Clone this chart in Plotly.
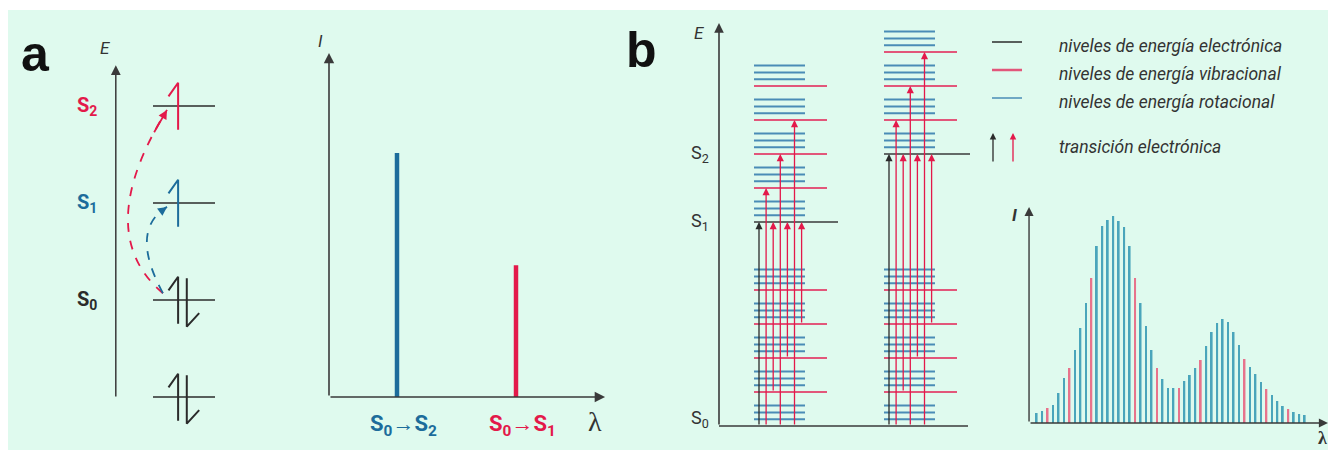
import numpy as np
import plotly.graph_objects as go

# page body adds an 8 px margin; figure pixels = screen pixels - 8
OX, OY = 8, 8
W, H = 1336 - OX, 450 - OY

RED = "#e3194a"
BLUE = "#1c6c9b"
DARK = "#2b2b2b"
AXIS = "#3a3a3a"
ROT = "#4a8cb6"
VIB = "#e2567a"
SPEC_ROT = "#4aa5bb"
SPEC_VIB = "#e7738c"
BG = "#dffaee"
TXT = "#333333"
SANS = "Roboto, 'Liberation Sans', sans-serif"
SERIF = "'Liberation Serif', 'DejaVu Serif', serif"

# ---------------- data ----------------
# (a) orbital diagram
orbital_levels = [-1, 0, 1, 2]
state_labels = ["S<sub>0</sub>", "S<sub>1</sub>", "S<sub>2</sub>"]
state_label_levels = [0, 1, 2]
state_label_colors = [DARK, BLUE, RED]
spin_up_levels = [-1, 0, 1, 2]
spin_up_colors = [DARK, DARK, BLUE, RED]
spin_down_levels = [-1, 0]
excitation_targets = [2, 1]
excitation_colors = [RED, BLUE]

# (a) line spectrum
line_labels = ["S<sub>0</sub>→S<sub>2</sub>", "S<sub>0</sub>→S<sub>1</sub>"]
line_lambda = [1.0, 2.75]
line_intensity = [1.0, 0.54]
line_colors = [BLUE, RED]

# (b) energy levels (units of one vibrational quantum)
electronic_names = ["S<sub>0</sub>", "S<sub>1</sub>", "S<sub>2</sub>"]
electronic_energy = [0.0, 6.0, 8.0]
vib_quanta_S0 = [0, 1, 2, 3, 4]
vib_quanta_S1 = [0, 1, 2, 3, 4]
vib_quanta_S2 = [0, 1, 2, 3]
rot_offsets = [0.2, 0.4, 0.6]
trans_from_v = [0, 0, 1, 0, 2, 0, 3]
trans_to_v = [0, 1, 0, 2, 0, 3, 0]

# (b) band spectrum
band_intensity = [10, 12, 15, 18, 30, 45, 55, 73, 95, 120,
                  145, 177, 197, 203, 207, 202, 196, 177, 145, 120,
                  97, 73, 55, 44, 35, 35, 35, 42, 48, 55,
                  63, 77, 91, 100, 104, 101, 91, 78, 64, 56,
                  49, 41, 34, 28, 22, 17, 14, 11, 9, 8]
band_vib_index = [2, 6, 10, 18, 22, 26, 30, 38, 42, 46]

legend_labels = ["niveles de energía electrónica",
                 "niveles de energía vibracional",
                 "niveles de energía rotacional",
                 "transición electrónica"]
legend_colors = [DARK, VIB, ROT]

# ---------------- figure ----------------
fig = go.Figure()
layout_axes = {}
annotations = []
shapes = []


def px(x):
    return (x - OX) / W


def py(y):
    return 1 - (y - OY) / H


def panel(n, left, right, top, bottom, x0, xu, y0, yu):
    sx = "" if n == 1 else str(n)
    layout_axes["xaxis" + sx] = dict(domain=[px(left), px(right)],
                                     range=[(left - x0) / xu, (right - x0) / xu],
                                     visible=False, anchor="y" + sx, fixedrange=True)
    layout_axes["yaxis" + sx] = dict(domain=[py(bottom), py(top)],
                                     range=[(y0 - bottom) / yu, (y0 - top) / yu],
                                     visible=False, anchor="x" + sx, fixedrange=True)
    return "x" + sx, "y" + sx


def arrow(xr, yr, xt, yt, xh, yh, color, width=1.5, size=1.0, head=2):
    annotations.append(dict(x=xh, y=yh, ax=xt, ay=yt, xref=xr, yref=yr, axref=xr, ayref=yr,
                            showarrow=True, arrowhead=head, arrowsize=size, arrowwidth=width,
                            arrowcolor=color, text="", standoff=0))


def label(xr, yr, x, y, text, size, color, family=SANS, weight="normal", style="normal",
          xanchor="center", yanchor="middle"):
    annotations.append(dict(x=x, y=y, xref=xr, yref=yr, text=text, showarrow=False,
                            xanchor=xanchor, yanchor=yanchor,
                            font=dict(size=size, color=color, family=family,
                                      weight=weight, style=style)))


def segs(xs, ys):
    X, Y = [], []
    for (xa, xb), (ya, yb) in zip(xs, ys):
        X += [xa, xb, None]
        Y += [ya, yb, None]
    return X, Y


# ---- panel a, orbital diagram ----
xa1, ya1 = panel(1, 10, 290, 12, 448, 153, 62, 300, 97)
X, Y = segs([(0, 1)] * len(orbital_levels), [(l, l) for l in orbital_levels])
fig.add_trace(go.Scatter(x=X, y=Y, mode="lines", line=dict(color=DARK, width=1.5),
                         xaxis=xa1, yaxis=ya1, hoverinfo="skip"))
for lv, c in zip(spin_up_levels, spin_up_colors):
    fig.add_trace(go.Scatter(x=[0.25, 0.405, 0.405], y=[lv + 0.1, lv + 0.24, lv - 0.245],
                             mode="lines", line=dict(color=c, width=2),
                             xaxis=xa1, yaxis=ya1, hoverinfo="skip"))
for lv in spin_down_levels:
    fig.add_trace(go.Scatter(x=[0.545, 0.545, 0.745], y=[lv + 0.225, lv - 0.275, lv - 0.135],
                             mode="lines", line=dict(color=DARK, width=2),
                             xaxis=xa1, yaxis=ya1, hoverinfo="skip"))
arrow(xa1, ya1, -0.6, -1.01, -0.6, 2.42, AXIS, width=1.5, size=1.3)
label(xa1, ya1, -0.78, 2.6, "E", 17, TXT, style="italic")
for t, lv, c in zip(state_labels, state_label_levels, state_label_colors):
    label(xa1, ya1, -1.06, lv, t, 20, c, weight="bold")
# dashed excitation arrows
ctrl = {2: (-1.0, 0.70), 1: (-0.39, 0.72)}
for tgt, c in zip(excitation_targets, excitation_colors):
    p0 = np.array([0.16, 0.07])
    p2 = np.array([0.226, tgt - 0.04])
    cc = np.array(ctrl[tgt])
    shapes.append(dict(type="path", xref=xa1, yref=ya1,
                       path=f"M {p0[0]},{p0[1]} Q {cc[0]},{cc[1]} {p2[0]},{p2[1]}",
                       line=dict(color=c, width=1.8, dash="dash")))
    t = 0.9
    pt = (1 - t) ** 2 * p0 + 2 * t * (1 - t) * cc + t ** 2 * p2
    arrow(xa1, ya1, pt[0], pt[1], p2[0], p2[1], c, width=1.8, size=1.0)

# ---- panel a, line spectrum ----
xa2, ya2 = panel(2, 300, 620, 12, 448, 329, 68, 397, 244)
fig.add_trace(go.Bar(x=line_lambda, y=line_intensity, width=0.066,
                     marker=dict(color=line_colors, line=dict(width=0)),
                     xaxis=xa2, yaxis=ya2, hoverinfo="skip"))
arrow(xa2, ya2, 0, 0, 0, 1.41, AXIS, width=1.6, size=1.3)
arrow(xa2, ya2, 0, 0, 4.06, 0, AXIS, width=1.6, size=1.3)
label(xa2, ya2, -0.13, 1.46, "I", 17, TXT, style="italic")
for t, lx, c in zip(line_labels, line_lambda, line_colors):
    label(xa2, ya2, lx + 0.09, -0.115, t, 22, c, weight="bold")
label(xa2, ya2, 3.91, -0.10, "λ", 28, TXT, family=SERIF)

# ---- panel b, energy levels ----
xb1, yb1 = panel(3, 620, 980, 12, 448, 719, 1, 426, 34)
stack_x0 = [35, 165]
stack_target = [1, 2]
stack_vibs = [vib_quanta_S1, vib_quanta_S2]
elec_len = [84, 86]
rot_len, vib_len = 51, 73
rx, ry, vx, vy, ex, ey = [], [], [], [], [], []
for s, x0 in enumerate(stack_x0):
    e_up = electronic_energy[stack_target[s]]
    for base, vibs in ((electronic_energy[0], vib_quanta_S0), (e_up, stack_vibs[s])):
        for v in vibs:
            for r in rot_offsets:
                rx.append((x0, x0 + rot_len)); ry.append((base + v + r,) * 2)
            if v > 0:
                vx.append((x0, x0 + vib_len)); vy.append((base + v,) * 2)
    ex.append((x0, x0 + elec_len[s])); ey.append((e_up, e_up))
ex.append((0, 249)); ey.append((electronic_energy[0],) * 2)
for xs, ys, c, w in ((rx, ry, ROT, 2.0), (vx, vy, VIB, 1.8), (ex, ey, AXIS, 1.4)):
    X, Y = segs(xs, ys)
    fig.add_trace(go.Scatter(x=X, y=Y, mode="lines", line=dict(color=c, width=w),
                             xaxis=xb1, yaxis=yb1, hoverinfo="skip"))
for s, x0 in enumerate(stack_x0):
    e_up = electronic_energy[stack_target[s]]
    for k, (fv, tv) in enumerate(zip(trans_from_v, trans_to_v)):
        xk = x0 + 5 + 7.1 * k
        c = DARK if (fv == 0 and tv == 0) else RED
        arrow(xb1, yb1, xk, electronic_energy[0] + fv, xk, e_up + tv, c, width=1.3, size=1.1)
arrow(xb1, yb1, 0, 0, 0, 11.85, AXIS, width=1.6, size=1.2)
label(xb1, yb1, -20, 11.56, "E", 17, TXT, style="italic")
for name, e in zip(electronic_names, electronic_energy):
    label(xb1, yb1, -19, e + (0.22 if e == 0 else 0), name, 18, TXT)

# ---- panel b, band spectrum ----
xb2, yb2 = panel(4, 985, 1336, 190, 448, 1036.7, 5.47, 423, 1)
idx = list(range(len(band_intensity)))
bcolors = [SPEC_VIB if i in band_vib_index else SPEC_ROT for i in idx]
fig.add_trace(go.Bar(x=idx, y=band_intensity, width=0.32,
                     marker=dict(color=bcolors, line=dict(width=0)),
                     xaxis=xb2, yaxis=yb2, hoverinfo="skip"))
arrow(xb2, yb2, -1.4, 0, -1.4, 216, AXIS, width=1.4, size=1.3)
arrow(xb2, yb2, -1.4, 0, 53.25, 0, AXIS, width=1.4, size=1.3)
label(xb2, yb2, -4.0, 208, "I", 17, TXT, weight="bold", style="italic")
label(xb2, yb2, 52.3, -15, "λ", 18, TXT, family=SERIF, weight="bold")

# ---- panel letters ----
label("paper", "paper", px(36), py(54), "a", 50, "#111111",
      family="'Liberation Sans', Arial, sans-serif", weight="bold")
label("paper", "paper", px(641), py(50), "b", 50, "#111111",
      family="'Liberation Sans', Arial, sans-serif", weight="bold")

# ---- legend ----
leg_rows = [42, 70, 98]
for yy, c, w in zip(leg_rows, legend_colors, [1.5, 2.5, 1.5]):
    shapes.append(dict(type="line", xref="paper", yref="paper", x0=px(992), x1=px(1022),
                       y0=py(yy), y1=py(yy), line=dict(color=c, width=w)))
for t, yy in zip(legend_labels, [46, 74, 102, 147]):
    label("paper", "paper", px(1057), py(yy), t, 17.5, TXT, style="italic", xanchor="left")
for xx, c in ((993, DARK), (1013, RED)):
    annotations.append(dict(x=px(xx), y=py(133), xref="paper", yref="paper", ax=0, ay=30,
                            showarrow=True, arrowhead=2, arrowsize=1.0, arrowwidth=1.3,
                            arrowcolor=c, text="", standoff=0))

# background (white strip on top, mint elsewhere)
shapes.insert(0, dict(type="rect", xref="paper", yref="paper", x0=0, x1=1, y0=0, y1=py(10),
                      fillcolor=BG, line=dict(width=0), layer="below"))

fig.update_layout(width=W, height=H, margin=dict(l=0, r=0, t=0, b=0),
                  paper_bgcolor="white", plot_bgcolor="rgba(0,0,0,0)",
                  showlegend=False, annotations=annotations, shapes=shapes,
                  **layout_axes)
fig.write_html("out.html", config={"displayModeBar": False})
